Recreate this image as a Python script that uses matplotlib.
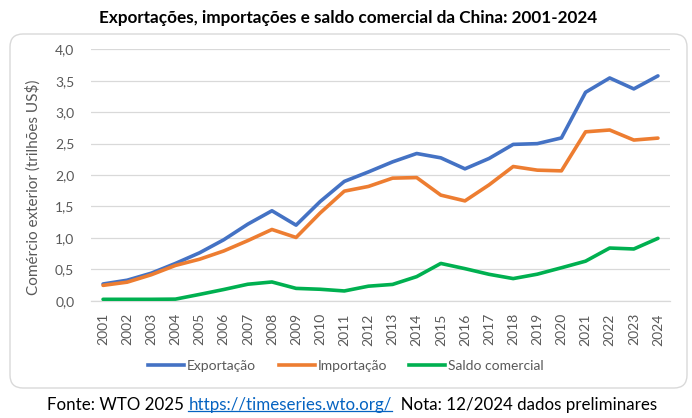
import matplotlib
matplotlib.use("Agg")
import matplotlib.pyplot as plt
from matplotlib.patches import FancyBboxPatch
from matplotlib.ticker import FuncFormatter, MultipleLocator
from matplotlib.lines import Line2D

years = [str(y) for y in range(2001, 2025)]
exportacao = [0.266, 0.326, 0.438, 0.593, 0.762, 0.969, 1.218, 1.431, 1.202, 1.578,
              1.898, 2.049, 2.209, 2.342, 2.273, 2.098, 2.263, 2.487, 2.499, 2.590,
              3.316, 3.544, 3.370, 3.577]
importacao = [0.244, 0.295, 0.413, 0.561, 0.660, 0.791, 0.956, 1.133, 1.006, 1.396,
              1.743, 1.818, 1.950, 1.959, 1.680, 1.588, 1.843, 2.135, 2.077, 2.066,
              2.687, 2.716, 2.556, 2.587]
saldo = [0.022, 0.022, 0.022, 0.025, 0.10, 0.178, 0.262, 0.298, 0.196, 0.182,
         0.155, 0.231, 0.259, 0.383, 0.593, 0.510, 0.420, 0.352, 0.422, 0.524,
         0.629, 0.838, 0.823, 0.992]

series_names = ["Exportação", "Importação", "Saldo comercial"]
colors = ["#4472C4", "#ED7D31", "#00B050"]

plt.rcParams['font.family'] = ['Lato', 'DejaVu Sans']

W, H = 692, 418
fig = plt.figure(figsize=(W / 100, H / 100), dpi=100)

# rounded chart border
box = FancyBboxPatch((0.10, 0.30), 6.77, 3.54,
                     boxstyle="round,pad=0,rounding_size=0.13",
                     transform=fig.dpi_scale_trans, facecolor="white",
                     edgecolor="#D9D9D9", linewidth=1.0, zorder=-5)
fig.patches.append(box)

ax = fig.add_axes([91 / W, 1 - 300.7 / H, (670 - 91) / W, (300.7 - 49.3) / H])
ax.set_zorder(2)
ax.set_facecolor("none")
x = list(range(len(years)))
for vals, c, n in zip([exportacao, importacao, saldo], colors, series_names):
    ax.plot(x, vals, color=c, lw=2.6, label=n, solid_capstyle="round", zorder=3)

ax.set_xlim(-0.5, len(years) - 0.5)
ax.set_ylim(0, 4.0)
ax.yaxis.set_major_locator(MultipleLocator(0.5))
ax.yaxis.set_major_formatter(FuncFormatter(lambda v, p: f"{v:.1f}".replace(".", ",")))
ax.set_xticks(x)
ax.set_xticklabels(years, rotation=90)
ax.grid(axis="y", color="#D9D9D9", lw=0.9)
ax.set_axisbelow(True)
for s in ["top", "right", "left"]:
    ax.spines[s].set_visible(False)
ax.spines["bottom"].set_color("#D9D9D9")
ax.spines["bottom"].set_linewidth(0.9)
ax.tick_params(axis="both", length=0, colors="#595959", labelsize=10)
ax.tick_params(axis="y", pad=12)
ax.tick_params(axis="x", pad=9)
ax.set_ylabel("Comércio exterior (trilhões US$)", fontsize=11, color="#595959", labelpad=10)
ax.yaxis.set_label_coords(-0.087, 0.45)

leg = fig.legend(handles=[Line2D([0], [0], color=c, lw=2.6) for c in colors],
                 labels=series_names, loc="center", bbox_to_anchor=(346 / W, 1 - 366 / H),
                 ncol=3, frameon=False, fontsize=10, handlelength=2.6, handletextpad=0.2,
                 columnspacing=1.6, labelcolor="#595959")

fig.text(348 / W, 1 - 18 / H, "Exportações, importações e saldo comercial da China: 2001-2024",
         ha="center", va="center", fontsize=12.3, fontweight="bold", color="black")

# footer with link
fy = 1 - 405 / H
t1 = fig.text(47 / W, fy, "Fonte: WTO 2025 ", ha="left", va="center", fontsize=12.2, color="black")
t2 = fig.text(0, fy, "https://timeseries.wto.org/", ha="left", va="center", fontsize=12.2, color="#0563C1")
t3 = fig.text(0, fy, "  Nota: 12/2024 dados preliminares", ha="left", va="center", fontsize=12.2, color="black")
fig.canvas.draw()
r = fig.canvas.get_renderer()
b1 = t1.get_window_extent(r)
t2.set_x(b1.x1 / W)
fig.canvas.draw()
b2 = t2.get_window_extent(r)
t3.set_x(b2.x1 / W)
uy = (b2.y0 + 2) / H
fig.add_artist(Line2D([b2.x0 / W, b2.x1 / W], [uy, uy], color="#0563C1", lw=0.9,
                      transform=fig.transFigure))

fig.savefig("out.png", dpi=100)
